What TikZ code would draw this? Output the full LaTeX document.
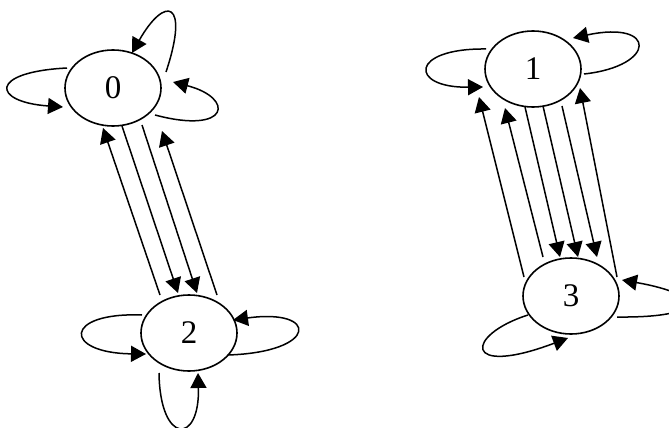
\documentclass[tikz,border=0pt]{standalone}
\usepackage{fontspec}
\setmainfont{Liberation Serif}
\usetikzlibrary{shapes.geometric,arrows.meta,calc}
\begin{document}
\begin{tikzpicture}[x=1pt,y=-1pt,
  state/.style={draw,ellipse,line width=1.6pt,minimum width=96pt,minimum height=76pt,inner sep=0pt,font=\fontsize{33}{33}\selectfont},
  edge/.style={line width=1.5pt,-{Triangle[length=15pt,width=16pt]}}]
\useasboundingbox (0,0) rectangle (669,428);
\node[state] (n0) at (113,88) {0};
\node[state] (n2) at (189,333) {2};
\node[state] (n1) at (533,69) {1};
\node[state] (n3) at (571,296) {3};
% loops of 0
\draw[edge] ($(n0)+(53,-16)$) .. controls ($(n0)+(77,-88)$) and ($(n0)+(52,-93)$) .. ($(n0)+(19,-35)$);
\draw[edge] ($(n0)+(-46,-20)$) .. controls ($(n0)+(-125,-16)$) and ($(n0)+(-121,14)$) .. ($(n0)+(-50,19)$);
\draw[edge] ($(n0)+(42,27)$) .. controls ($(n0)+(117,47)$) and ($(n0)+(122,10)$) .. ($(n0)+(60,-6)$);
% loops of 2
\draw[edge] ($(n2)+(-47,-18)$) .. controls ($(n2)+(-126,-21)$) and ($(n2)+(-126,20)$) .. ($(n2)+(-43,21)$);
\draw[edge] ($(n2)+(39,22)$) .. controls ($(n2)+(130,19)$) and ($(n2)+(130,-25)$) .. ($(n2)+(44,-13)$);
\draw[edge] ($(n2)+(-30,40)$) .. controls ($(n2)+(-29,112)$) and ($(n2)+(11,112)$) .. ($(n2)+(9,40)$);
% loops of 1
\draw[edge] ($(n1)+(-47,-20)$) .. controls ($(n1)+(-124,-21)$) and ($(n1)+(-124,19)$) .. ($(n1)+(-50,18)$);
\draw[edge] ($(n1)+(51,5)$) .. controls ($(n1)+(124,-3)$) and ($(n1)+(124,-49)$) .. ($(n1)+(40,-31)$);
% loops of 3
\draw[edge] ($(n3)+(46,21)$) .. controls ($(n3)+(136,22)$) and ($(n3)+(136,-1)$) .. ($(n3)+(51,-16)$);
\draw[edge] ($(n3)+(-43,19)$) .. controls ($(n3)+(-106,39)$) and ($(n3)+(-109,82)$) .. ($(n3)+(-3,42)$);
% edges 0 - 2
\draw[edge] ($(n2)+(-29,-38)$) -- ($(n0)+(-10,40)$);
\draw[edge] ($(n0)+(9,38)$) -- ($(n2)+(-11,-40)$);
\draw[edge] ($(n0)+(29,37)$) -- ($(n2)+(8,-40)$);
\draw[edge] ($(n2)+(28,-38)$) -- ($(n0)+(49,43)$);
% edges 1 - 3
\draw[edge] ($(n3)+(-47,-19)$) -- ($(n1)+(-54,28)$);
\draw[edge] ($(n3)+(-28,-39)$) -- ($(n1)+(-28,39)$);
\draw[edge] ($(n1)+(-8,38)$) -- ($(n3)+(-11,-39)$);
\draw[edge] ($(n1)+(10,37)$) -- ($(n3)+(7,-39)$);
\draw[edge] ($(n1)+(29,37)$) -- ($(n3)+(26,-39)$);
\draw[edge] ($(n3)+(46,-19)$) -- ($(n1)+(47,19)$);
\end{tikzpicture}
\end{document}
